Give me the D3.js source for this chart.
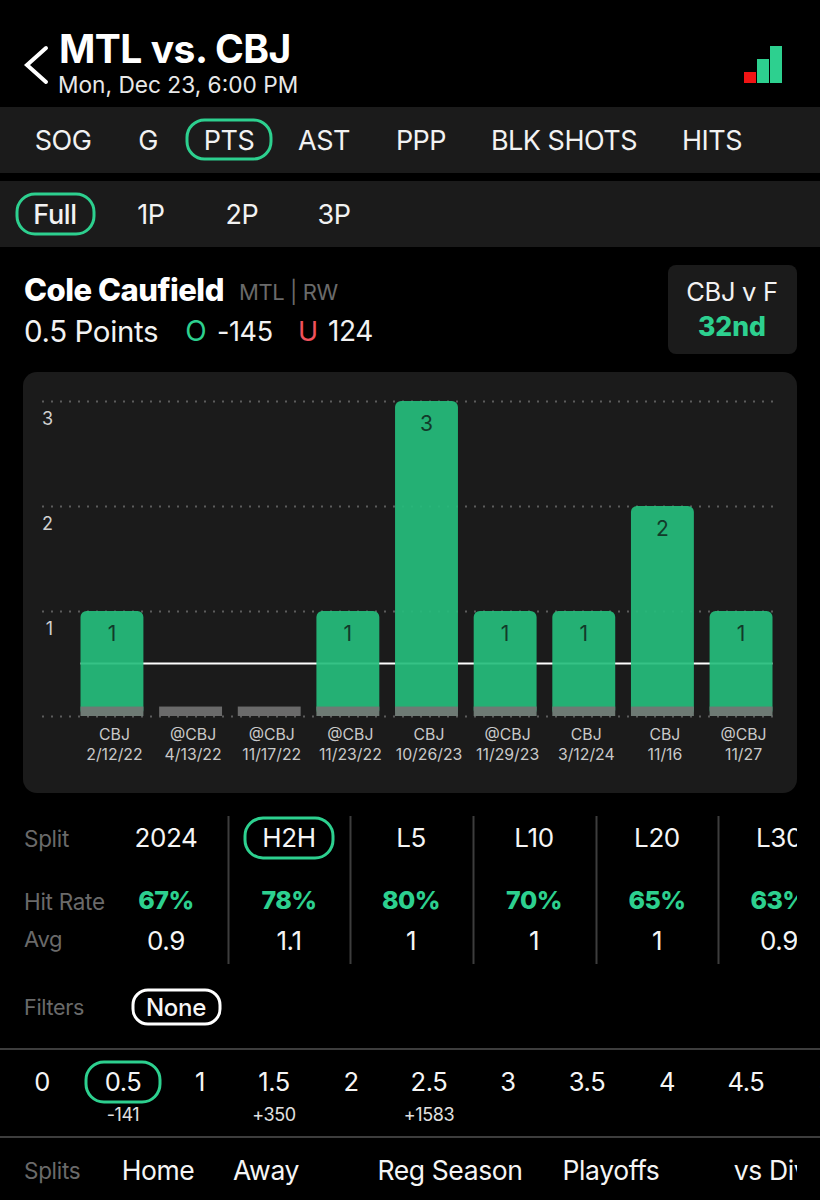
<!DOCTYPE html>
<html>
<head>
<meta charset="utf-8">
<script src="https://cdn.jsdelivr.net/npm/d3@7"></script>
<style>
  html, body { margin: 0; padding: 0; background: #000; }
  svg { display: block; }
  text { font-family: Inter, "Noto Sans", sans-serif; }
</style>
</head>
<body>
<div id="chart"></div>
<script>
// chart data
var opponents = ["CBJ", "@CBJ", "@CBJ", "@CBJ", "CBJ", "@CBJ", "CBJ", "CBJ", "@CBJ"];
var gameDates = ["2/12/22", "4/13/22", "11/17/22", "11/23/22", "10/26/23", "11/29/23", "3/12/24", "11/16", "11/27"];
var points = [1, 0, 0, 1, 3, 1, 1, 2, 1];
var yTicks = [1, 2, 3];
var propLine = 0.5;
var baseStub = 0.09;

// the rest of the screen
var statTabs = ["SOG", "G", "PTS", "AST", "PPP", "BLK SHOTS", "HITS"];
var periodTabs = ["Full", "1P", "2P", "3P"];
var splitNames = ["2024", "H2H", "L5", "L10", "L20", "L30"];
var hitRates = ["67%", "78%", "80%", "70%", "65%", "63%"];
var averages = ["0.9", "1.1", "1", "1", "1", "0.9"];
var lineValues = ["0", "0.5", "1", "1.5", "2", "2.5", "3", "3.5", "4", "4.5", "5"];
var lineOdds = ["", "-141", "", "+350", "", "+1583", "", "", "", "", ""];
var splitFilters = ["Home", "Away", "Reg Season", "Playoffs", "vs Div"];

var GREEN = "#2dd08f", BAR = "#25bd7c", PANEL = "#1b1b1b", GRAY = "#6a6a6a";

var svg = d3.select("#chart").append("svg").attr("width", 820).attr("height", 1200);

var defs = svg.append("defs");
defs.append("clipPath").attr("id", "clipRight").append("rect")
  .attr("x", 0).attr("y", 800).attr("width", 797).attr("height", 400);

function label(g, x, y, str, size, color, opts) {
  opts = opts || {};
  return g.append("text")
    .attr("x", x).attr("y", y)
    .attr("dy", "0.36em")
    .attr("text-anchor", opts.anchor || "middle")
    .attr("font-size", size)
    .attr("font-weight", opts.weight || 400)
    .attr("letter-spacing", opts.spacing || 0)
    .attr("fill", color)
    .text(str);
}

function pill(g, x0, y0, x1, y1, color) {
  g.append("rect")
    .attr("x", x0).attr("y", y0)
    .attr("width", x1 - x0).attr("height", y1 - y0)
    .attr("rx", (y1 - y0) / 2 - 2)
    .attr("fill", "none")
    .attr("stroke", color).attr("stroke-width", 3);
}

// header
var header = svg.append("g");
label(header, 59, 49, "MTL vs. CBJ", 39, "#fff", {anchor: "start", weight: 700, spacing: -0.5});
label(header, 58, 85, "Mon, Dec 23, 6:00 PM", 22.7, "#e8e8e8", {anchor: "start"});
header.append("path")
  .attr("d", d3.line()([[46, 48], [27, 65], [46, 82]]))
  .attr("fill", "none").attr("stroke", "#fff").attr("stroke-width", 4).attr("stroke-linecap", "round");
header.append("rect").attr("x", 744).attr("y", 72).attr("width", 12).attr("height", 11).attr("fill", "#f01414");
header.append("rect").attr("x", 757).attr("y", 59).attr("width", 12).attr("height", 24).attr("fill", GREEN);
header.append("rect").attr("x", 770).attr("y", 46).attr("width", 12).attr("height", 37).attr("fill", GREEN);

// stat tabs
var tabs = svg.append("g");
tabs.append("rect").attr("x", 0).attr("y", 107).attr("width", 820).attr("height", 66).attr("fill", PANEL);
tabs.append("rect").attr("x", 0).attr("y", 181).attr("width", 820).attr("height", 66).attr("fill", PANEL);
var statX = [63, 148, 229, 324, 421, 564, 712];
statTabs.forEach(function(d, i) { label(tabs, statX[i], 140, d, 27, "#f2f2f2", {spacing: -0.5}); });
pill(tabs, 187, 120, 271, 159, GREEN);
var periodX = [55, 151, 242, 334];
periodTabs.forEach(function(d, i) { label(tabs, periodX[i], 214, d, 27, "#f2f2f2", {spacing: -0.4, weight: i === 0 ? 500 : 400}); });
pill(tabs, 17, 194, 94, 234, GREEN);

// player row
var player = svg.append("g");
label(player, 24, 290, "Cole Caufield", 31, "#fff", {anchor: "start", weight: 800, spacing: -0.5});
label(player, 239, 292, "MTL | RW", 22, GRAY, {anchor: "start", spacing: -0.4});
label(player, 24, 331, "0.5 Points", 29.5, "#f2f2f2", {anchor: "start", spacing: -0.4});
label(player, 196, 331, "O", 28, GREEN);
label(player, 217, 331, "-145", 27, "#f2f2f2", {anchor: "start", spacing: -0.4});
label(player, 308, 331, "U", 27, "#f0525c");
label(player, 328, 331, "124", 28, "#f2f2f2", {anchor: "start", spacing: -0.4});
player.append("rect").attr("x", 668).attr("y", 265).attr("width", 129).attr("height", 89).attr("rx", 8).attr("fill", PANEL);
label(player, 732, 292, "CBJ v F", 25.5, "#f2f2f2", {spacing: -0.3});
label(player, 732, 326, "32nd", 26.5, GREEN, {weight: 800});

// chart panel
var chart = svg.append("g");
chart.append("rect").attr("x", 23).attr("y", 372).attr("width", 774).attr("height", 421).attr("rx", 14).attr("fill", PANEL);

var x = d3.scaleBand().domain(d3.range(points.length)).range([80.5, 772.5]).paddingInner(0.2);
var y = d3.scaleLinear().domain([0, 3]).range([716, 401]);

// dotted grid, y axis
var yAxis = d3.axisLeft(y).tickValues([0].concat(yTicks)).tickSize(0).tickPadding(0)
  .tickFormat(function(d) { return d === 0 ? "" : d; });
var yG = chart.append("g").attr("transform", "translate(53,0)").call(yAxis);
yG.select(".domain").remove();
yG.selectAll(".tick line")
  .attr("x1", -11).attr("x2", 725)
  .attr("stroke", "#5c5c5c").attr("stroke-width", 2).attr("stroke-dasharray", "2 7");
yG.selectAll(".tick text")
  .attr("x", 0).attr("dy", "1.28em")
  .attr("font-size", 18).attr("fill", "#d0d0d0")
  .attr("text-anchor", "end");

// line at the prop
chart.append("line")
  .attr("x1", x(0)).attr("x2", x(points.length - 1) + x.bandwidth())
  .attr("y1", y(propLine)).attr("y2", y(propLine))
  .attr("stroke", "#fff").attr("stroke-width", 2);

// bars
chart.selectAll(".bar").data(points.map(function(d, i) { return {v: d, i: i}; }).filter(function(d) { return d.v > 0; }))
  .enter().append("rect").attr("class", "bar")
  .attr("x", function(d) { return x(d.i); })
  .attr("y", function(d) { return y(d.v); })
  .attr("width", x.bandwidth())
  .attr("height", function(d) { return y(0) - y(d.v); })
  .attr("rx", 6)
  .attr("fill", BAR).attr("fill-opacity", 0.92);

chart.selectAll(".stub").data(points)
  .enter().append("rect").attr("class", "stub")
  .attr("x", function(d, i) { return x(i); })
  .attr("y", y(baseStub))
  .attr("width", x.bandwidth())
  .attr("height", y(0) - y(baseStub))
  .attr("fill", function(d) { return d > 0 ? "#6e7a74" : "#6a6a6a"; });

chart.selectAll(".val").data(points.map(function(d, i) { return {v: d, i: i}; }).filter(function(d) { return d.v > 0; }))
  .enter().append("text").attr("class", "val")
  .attr("x", function(d) { return x(d.i) + x.bandwidth() / 2; })
  .attr("y", function(d) { return y(d.v) + 22; })
  .attr("dy", "0.36em")
  .attr("text-anchor", "middle")
  .attr("font-size", 21)
  .attr("fill", "#123a2a")
  .text(function(d) { return d.v; });

// x axis, two line labels
var xAxis = d3.axisBottom(x).tickSize(0).tickPadding(0).tickFormat("");
var xG = chart.append("g").attr("transform", "translate(2.5,716)").call(xAxis);
xG.select(".domain").remove();
xG.selectAll(".tick text").each(function(d) {
  var t = d3.select(this).attr("y", 0).attr("dy", 0).attr("font-size", 15.8).attr("fill", "#c9c9c9");
  t.append("tspan").attr("x", 0).attr("y", 24).text(opponents[d]);
  t.append("tspan").attr("x", 0).attr("y", 44).text(gameDates[d]);
});

// splits table
var table = svg.append("g").attr("clip-path", "url(#clipRight)");
var colX = [166, 289, 411, 534, 657, 779];
label(table, 24, 839, "Split", 22.5, GRAY, {anchor: "start", spacing: -0.3});
label(table, 24, 902, "Hit Rate", 22.5, GRAY, {anchor: "start", spacing: -0.3});
label(table, 24, 939, "Avg", 22, GRAY, {anchor: "start", spacing: -0.3});
splitNames.forEach(function(d, i) {
  label(table, colX[i], 838, d, 26, "#f5f5f5", {spacing: -0.4});
  label(table, colX[i], 900, hitRates[i], 25, GREEN, {weight: 800, spacing: -0.5});
  label(table, colX[i], 941, averages[i], 26, "#f5f5f5", {spacing: -0.4});
  if (i > 0) {
    table.append("line")
      .attr("x1", colX[i] - 60.5).attr("x2", colX[i] - 60.5)
      .attr("y1", 816).attr("y2", 964)
      .attr("stroke", "#3d3d3d").attr("stroke-width", 2);
  }
});
pill(table, 245, 818, 333, 858, GREEN);

label(table, 24, 1007, "Filters", 21.5, GRAY, {anchor: "start", spacing: -0.3});
label(table, 176, 1007, "None", 24, "#f5f5f5", {spacing: -0.3, weight: 500});
pill(table, 133, 990, 220, 1024, "#fff");

// line picker
var picker = svg.append("g");
picker.append("line").attr("x1", 0).attr("x2", 820).attr("y1", 1049).attr("y2", 1049).attr("stroke", "#3d3d3d").attr("stroke-width", 2);
picker.append("line").attr("x1", 0).attr("x2", 820).attr("y1", 1137).attr("y2", 1137).attr("stroke", "#3d3d3d").attr("stroke-width", 2);
var lineX = [42, 123, 200, 274, 351, 429, 508, 587, 667, 746, 826];
lineValues.forEach(function(d, i) {
  label(picker, lineX[i], 1082, d, 25.5, "#f5f5f5", {spacing: -0.4});
  if (lineOdds[i]) label(picker, lineX[i], 1115, lineOdds[i], 18, "#e0e0e0", {spacing: -0.4});
});
pill(picker, 86, 1062, 160, 1102, GREEN);

// bottom row
var bottom = svg.append("g").attr("clip-path", "url(#clipRight)");
label(bottom, 24, 1171, "Splits", 22.5, GRAY, {anchor: "start", spacing: -0.3});
var filterX = [158, 266, 450, 611, 771];
splitFilters.forEach(function(d, i) { label(bottom, filterX[i], 1170, d, 26.5, "#f5f5f5", {spacing: -0.4}); });
</script>
</body>
</html>
